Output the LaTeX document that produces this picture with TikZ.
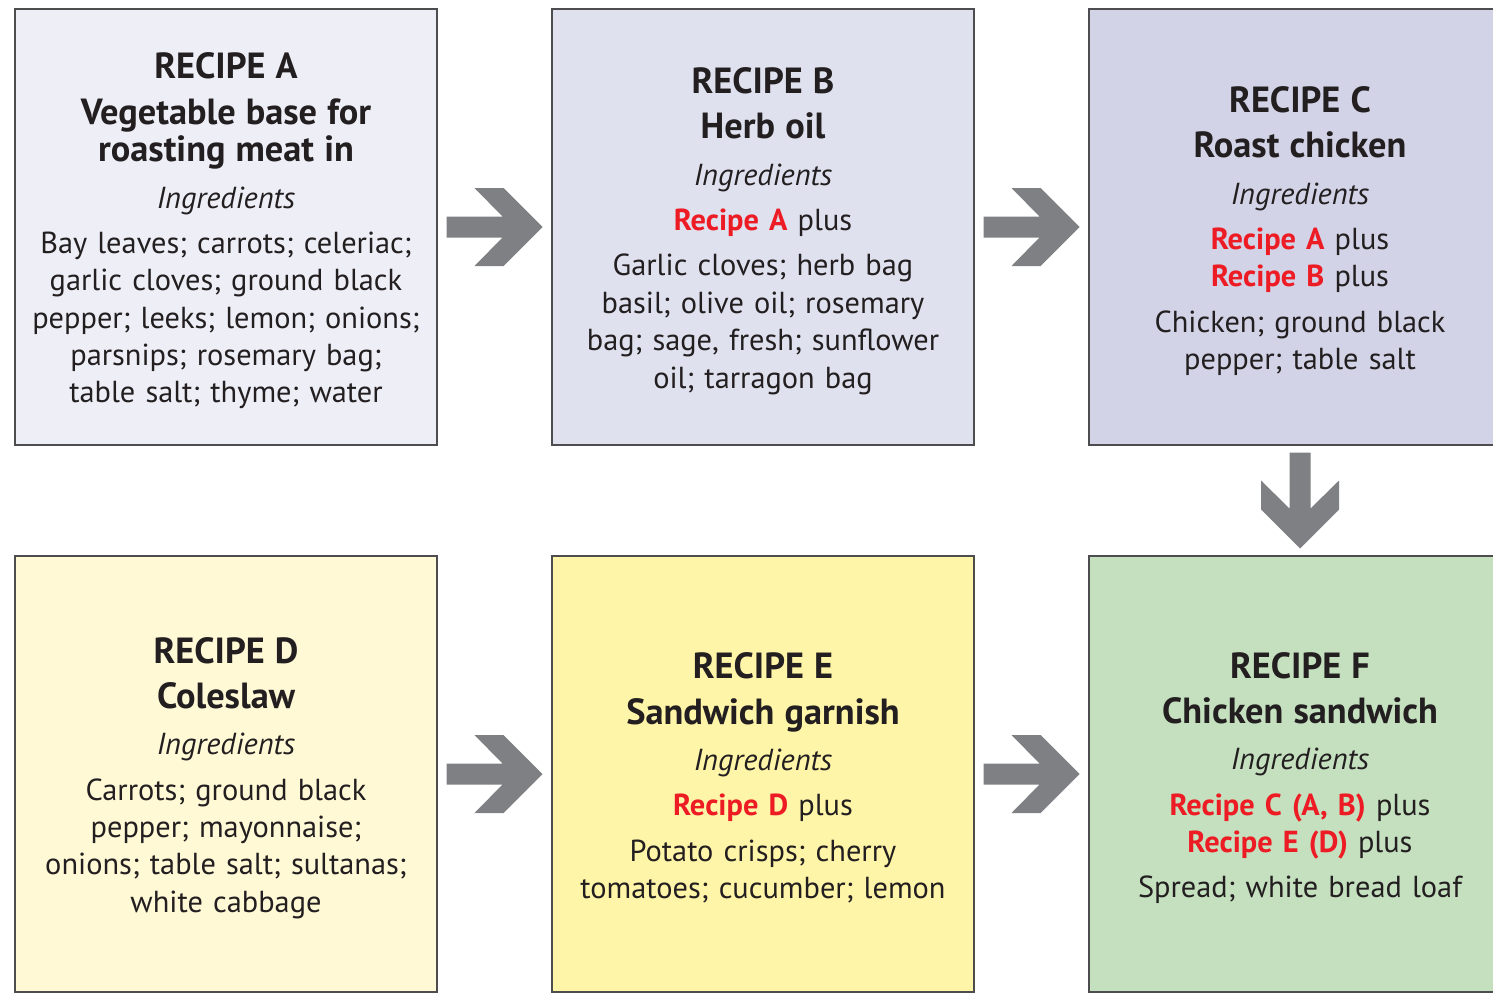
\documentclass[tikz,border=0pt]{standalone}
\usepackage{fontspec}
\setmainfont{PT Sans}
\usetikzlibrary{calc}
\definecolor{txt}{HTML}{231F20}
\definecolor{redr}{HTML}{ED1C24}
\definecolor{edge}{HTML}{4D4D4F}
\definecolor{arrowgray}{HTML}{7F8083}
\definecolor{fa}{HTML}{EEEEF7}
\definecolor{fb}{HTML}{E0E1EF}
\definecolor{fc}{HTML}{D2D3E6}
\definecolor{fd}{HTML}{FFF9D6}
\definecolor{fe}{HTML}{FFF5A8}
\definecolor{ff}{HTML}{C5E0BF}
\newcommand\rt[1]{{\fontsize{36.5}{37.5}\selectfont\bfseries #1}}
\newcommand\rr[1]{\textcolor{redr}{\bfseries #1}}
\tikzset{
  recipebox/.style={draw=edge, line width=1.5bp, minimum width=422bp, minimum height=436bp,
    inner sep=0pt},
  recipetext/.style={inner sep=0pt, text width=420bp, align=center, text=txt,
    font=\fontsize{30.5}{37.5}\selectfont},
  barrow/.pic={\fill[arrowgray] (48,0) -- (9,-39) -- (-20,-39) -- (8,-10.5) -- (-48,-10.5)
     -- (-48,10.5) -- (8,10.5) -- (-20,39) -- (9,39) -- cycle;}
}
\begin{document}
\begin{tikzpicture}[x=1bp,y=-1bp]
\useasboundingbox (0,0) rectangle (1493,992);
\clip (0,0) rectangle (1493,992);
\fill[white] (0,0) rectangle (1493,992);
\node[recipebox, fill=fa] (a) at (226,227) {};
\node[recipebox, fill=fb] (b) at (763,227) {};
\node[recipebox, fill=fc] (c) at (1300,227) {};
\node[recipebox, fill=fd] (d) at (226,774) {};
\node[recipebox, fill=fe] (e) at (763,774) {};
\node[recipebox, fill=ff] (f) at (1300,774) {};
\node[recipetext] (ta) at ($(a.center)+(0,4)$) {\rt{RECIPE A}\\[8bp]
\rt{Vegetable base for}\\
\rt{roasting meat in}\\[9bp]
\textit{Ingredients}\\[8bp]
Bay leaves; carrots; celeriac;\\
garlic cloves; ground black\\
pepper; leeks; lemon; onions;\\
parsnips; rosemary bag;\\
table salt; thyme; water};
\node[recipetext] (tb) at ($(b.center)+(0,4)$) {\rt{RECIPE B}\\[8bp]
\rt{Herb oil}\\[9bp]
\textit{Ingredients}\\[8bp]
\rr{Recipe A} plus\\[8bp]
Garlic cloves; herb bag\\
basil; olive oil; rosemary\\
bag; sage, fresh; sunflower\\
oil; tarragon bag};
\node[recipetext] (tc) at ($(c.center)+(0,4)$) {\rt{RECIPE C}\\[8bp]
\rt{Roast chicken}\\[9bp]
\textit{Ingredients}\\[8bp]
\rr{Recipe A} plus\\
\rr{Recipe B} plus\\[8bp]
Chicken; ground black\\
pepper; table salt};
\node[recipetext] (td) at ($(d.center)+(0,4)$) {\rt{RECIPE D}\\[8bp]
\rt{Coleslaw}\\[9bp]
\textit{Ingredients}\\[8bp]
Carrots; ground black\\
pepper; mayonnaise;\\
onions; table salt; sultanas;\\
white cabbage};
\node[recipetext] (te) at ($(e.center)+(0,4)$) {\rt{RECIPE E}\\[8bp]
\rt{Sandwich garnish}\\[9bp]
\textit{Ingredients}\\[8bp]
\rr{Recipe D} plus\\[8bp]
Potato crisps; cherry\\
tomatoes; cucumber; lemon};
\node[recipetext] (tf) at ($(f.center)+(0,4)$) {\rt{RECIPE F}\\[8bp]
\rt{Chicken sandwich}\\[9bp]
\textit{Ingredients}\\[8bp]
\rr{Recipe C (A, B)} plus\\
\rr{Recipe E (D)} plus\\[8bp]
Spread; white bread loaf};
\pic at ($(a.east)!0.5!(b.west)$) {barrow};
\pic at ($(b.east)!0.5!(c.west)$) {barrow};
\pic[rotate=-90] at ($(c.south)!0.5!(f.north)$) {barrow};
\pic at ($(d.east)!0.5!(e.west)$) {barrow};
\pic at ($(e.east)!0.5!(f.west)$) {barrow};
\end{tikzpicture}
\end{document}
